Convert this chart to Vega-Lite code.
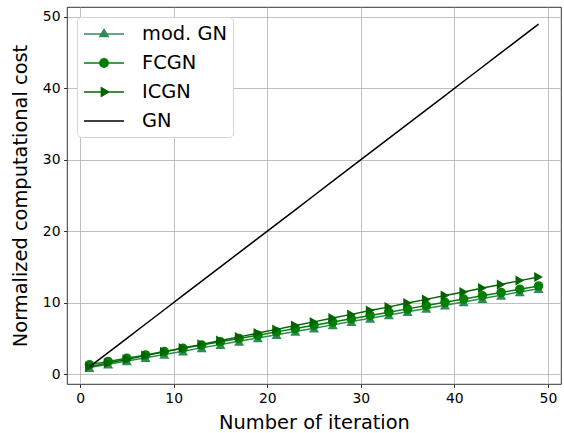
{
  "$schema": "https://vega.github.io/schema/vega-lite/v6.json",
  "autosize": "none",
  "width": 494,
  "height": 377,
  "padding": {"left": 67, "top": 7, "right": 3, "bottom": 49},
  "background": "white",
  "config": {
    "font": "DejaVu Sans",
    "view": {"stroke": "black", "strokeWidth": 0.8},
    "axis": {
      "grid": true, "gridColor": "#b0b0b0", "gridWidth": 0.8, "domain": false,
      "tickColor": "black", "tickSize": 3.5, "tickWidth": 0.8, "labelPadding": 3.5,
      "labelFontSize": 13.9, "labelColor": "black", "titleFontSize": 19.4,
      "titleFontWeight": "normal", "titleColor": "black", "labelFont": "DejaVu Sans", "titleFont": "DejaVu Sans"
    }
  },
  "data": {"values": [
    {"n":1,"series":"mod. GN","cost":0.9},{"n":3,"series":"mod. GN","cost":1.36},{"n":5,"series":"mod. GN","cost":1.82},{"n":7,"series":"mod. GN","cost":2.28},{"n":9,"series":"mod. GN","cost":2.74},{"n":11,"series":"mod. GN","cost":3.2},{"n":13,"series":"mod. GN","cost":3.66},{"n":15,"series":"mod. GN","cost":4.12},{"n":17,"series":"mod. GN","cost":4.58},{"n":19,"series":"mod. GN","cost":5.04},{"n":21,"series":"mod. GN","cost":5.5},{"n":23,"series":"mod. GN","cost":5.96},{"n":25,"series":"mod. GN","cost":6.42},{"n":27,"series":"mod. GN","cost":6.88},{"n":29,"series":"mod. GN","cost":7.34},{"n":31,"series":"mod. GN","cost":7.8},{"n":33,"series":"mod. GN","cost":8.26},{"n":35,"series":"mod. GN","cost":8.72},{"n":37,"series":"mod. GN","cost":9.18},{"n":39,"series":"mod. GN","cost":9.64},{"n":41,"series":"mod. GN","cost":10.1},{"n":43,"series":"mod. GN","cost":10.56},{"n":45,"series":"mod. GN","cost":11.02},{"n":47,"series":"mod. GN","cost":11.48},{"n":49,"series":"mod. GN","cost":11.94},
    {"n":1,"series":"FCGN","cost":1.3},{"n":3,"series":"FCGN","cost":1.76},{"n":5,"series":"FCGN","cost":2.22},{"n":7,"series":"FCGN","cost":2.68},{"n":9,"series":"FCGN","cost":3.14},{"n":11,"series":"FCGN","cost":3.6},{"n":13,"series":"FCGN","cost":4.06},{"n":15,"series":"FCGN","cost":4.52},{"n":17,"series":"FCGN","cost":4.98},{"n":19,"series":"FCGN","cost":5.44},{"n":21,"series":"FCGN","cost":5.9},{"n":23,"series":"FCGN","cost":6.36},{"n":25,"series":"FCGN","cost":6.82},{"n":27,"series":"FCGN","cost":7.28},{"n":29,"series":"FCGN","cost":7.74},{"n":31,"series":"FCGN","cost":8.2},{"n":33,"series":"FCGN","cost":8.66},{"n":35,"series":"FCGN","cost":9.12},{"n":37,"series":"FCGN","cost":9.58},{"n":39,"series":"FCGN","cost":10.04},{"n":41,"series":"FCGN","cost":10.5},{"n":43,"series":"FCGN","cost":10.96},{"n":45,"series":"FCGN","cost":11.42},{"n":47,"series":"FCGN","cost":11.88},{"n":49,"series":"FCGN","cost":12.34},
    {"n":1,"series":"ICGN","cost":1.0},{"n":3,"series":"ICGN","cost":1.53},{"n":5,"series":"ICGN","cost":2.05},{"n":7,"series":"ICGN","cost":2.58},{"n":9,"series":"ICGN","cost":3.1},{"n":11,"series":"ICGN","cost":3.63},{"n":13,"series":"ICGN","cost":4.15},{"n":15,"series":"ICGN","cost":4.68},{"n":17,"series":"ICGN","cost":5.2},{"n":19,"series":"ICGN","cost":5.73},{"n":21,"series":"ICGN","cost":6.25},{"n":23,"series":"ICGN","cost":6.78},{"n":25,"series":"ICGN","cost":7.3},{"n":27,"series":"ICGN","cost":7.83},{"n":29,"series":"ICGN","cost":8.35},{"n":31,"series":"ICGN","cost":8.88},{"n":33,"series":"ICGN","cost":9.4},{"n":35,"series":"ICGN","cost":9.93},{"n":37,"series":"ICGN","cost":10.45},{"n":39,"series":"ICGN","cost":10.98},{"n":41,"series":"ICGN","cost":11.5},{"n":43,"series":"ICGN","cost":12.03},{"n":45,"series":"ICGN","cost":12.55},{"n":47,"series":"ICGN","cost":13.08},{"n":49,"series":"ICGN","cost":13.6},
    {"n":1,"series":"GN","cost":1},{"n":3,"series":"GN","cost":3},{"n":5,"series":"GN","cost":5},{"n":7,"series":"GN","cost":7},{"n":9,"series":"GN","cost":9},{"n":11,"series":"GN","cost":11},{"n":13,"series":"GN","cost":13},{"n":15,"series":"GN","cost":15},{"n":17,"series":"GN","cost":17},{"n":19,"series":"GN","cost":19},{"n":21,"series":"GN","cost":21},{"n":23,"series":"GN","cost":23},{"n":25,"series":"GN","cost":25},{"n":27,"series":"GN","cost":27},{"n":29,"series":"GN","cost":29},{"n":31,"series":"GN","cost":31},{"n":33,"series":"GN","cost":33},{"n":35,"series":"GN","cost":35},{"n":37,"series":"GN","cost":37},{"n":39,"series":"GN","cost":39},{"n":41,"series":"GN","cost":41},{"n":43,"series":"GN","cost":43},{"n":45,"series":"GN","cost":45},{"n":47,"series":"GN","cost":47},{"n":49,"series":"GN","cost":49}
  ]},
  "encoding": {
    "x": {"field": "n", "type": "quantitative", "title": "Number of iteration",
      "scale": {"domain": [-1.4, 51.4], "nice": false, "zero": false},
      "axis": {"values": [0,10,20,30,40,50], "titlePadding": 9}},
    "y": {"field": "cost", "type": "quantitative", "title": "Normalized computational cost",
      "scale": {"domain": [-1.4, 51.4], "nice": false, "zero": false},
      "axis": {"values": [0,10,20,30,40,50], "titlePadding": 12}},
    "color": {"field": "series", "type": "nominal",
      "scale": {"domain": ["mod. GN","FCGN","ICGN","GN"], "range": ["#2e8b57","#008000","#006400","#000000"]},
      "legend": {
        "title": null, "orient": "top-left", "offset": 10, "padding": 6,
        "fillColor": "white", "strokeColor": "#d6d6d6", "cornerRadius": 4,
        "labelFontSize": 19.4, "labelFont": "DejaVu Sans", "labelColor": "black",
        "symbolSize": 400, "labelOffset": 37, "rowPadding": 8,
        "encode": {"symbols": {"update": {
          "shape": {"signal": "datum.value === 'mod. GN' ? 'M-1,0H3M1,-0.46L1.42,0.26L0.58,0.26Z' : datum.value === 'FCGN' ? 'M-1,0H3M1.42,0A0.42,0.42,0,1,1,0.58,0A0.42,0.42,0,1,1,1.42,0' : datum.value === 'ICGN' ? 'M-1,0H3M1.46,0L0.74,-0.42L0.74,0.42Z' : 'M-1,0H3'"},
          "fill": {"scale": "color", "field": "value"},
          "stroke": {"scale": "color", "field": "value"},
          "strokeWidth": {"value": 1.5},
          "opacity": {"value": 1}
        }}}
      }}
  },
  "layer": [
    {"transform": [{"filter": "datum.series === 'mod. GN'"}], "mark": {"type": "line", "strokeWidth": 1.5}},
    {"transform": [{"filter": "datum.series === 'mod. GN'"}], "mark": {"type": "point", "shape": "triangle-up", "filled": true, "size": 100, "opacity": 1}},
    {"transform": [{"filter": "datum.series === 'FCGN'"}], "mark": {"type": "line", "strokeWidth": 1.5}},
    {"transform": [{"filter": "datum.series === 'FCGN'"}], "mark": {"type": "point", "shape": "circle", "filled": true, "size": 90, "opacity": 1}},
    {"transform": [{"filter": "datum.series === 'ICGN'"}], "mark": {"type": "line", "strokeWidth": 1.5}},
    {"transform": [{"filter": "datum.series === 'ICGN'"}], "mark": {"type": "point", "shape": "triangle-right", "filled": true, "size": 100, "opacity": 1}},
    {"transform": [{"filter": "datum.series === 'GN'"}], "mark": {"type": "line", "strokeWidth": 1.5}}
  ]
}
